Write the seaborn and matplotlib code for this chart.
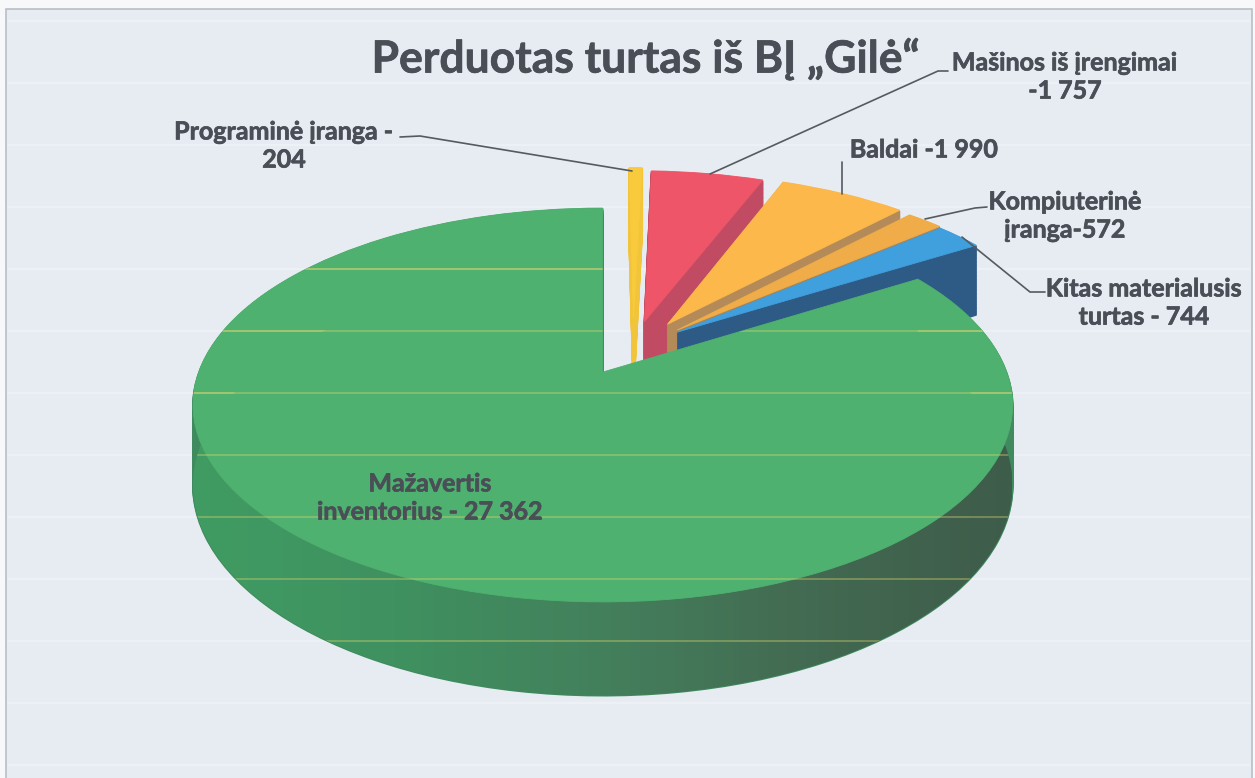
import matplotlib
matplotlib.use("Agg")
import matplotlib.pyplot as plt
import matplotlib.patheffects as pe
import matplotlib.transforms as mtransforms
from matplotlib.colors import LinearSegmentedColormap
from matplotlib.patches import Polygon, Rectangle
import numpy as np
import seaborn as sns

# clockwise from 12 o'clock
categories = ["Programinė įranga", "Mašinos iš įrengimai", "Baldai",
              "Kompiuterinė įranga", "Kitas materialusis turtas",
              "Mažavertis inventorius"]
values = [204, 1757, 1990, 572, 744, 27362]
explode = [0.23, 0.22, 0.226, 0.20, 0.18, 0.092]
# small extra pull of the slices, the scan's perspective is not quite radial
nudge = [(0.035, -0.01), (0.022, -0.02), (0.005, -0.01), (0.005, 0.01), (0.005, 0.03), (0.004, 0)]

top_colors = ["#f8ca3c", "#ee5568", "#fdb84c", "#efac48", "#409fdd", "#4fb16f"]
side_colors = ["#f2c43a", "#c04b62", "#b48b58", "#a98250", "#2e5b86", "#3f8a5e"]
green_side = ["#3f9c62", "#3f9160", "#43805c", "#436a52", "#3e5c4a"]

TEXT = "#4a4f57"
BG = "#e7ecf2"

# perspective of the tilted pie, in picture pixels
X0, Y0 = 601, 372
A, B, K, D = 191.4, 404, 0.167, 78


class Tilt(mtransforms.Transform):
    input_dims = 2
    output_dims = 2
    is_separable = False

    def __init__(self, drop=0.0):
        super().__init__()
        self.drop = drop

    def transform_non_affine(self, xy):
        xy = np.asarray(xy, dtype=float)
        w = 1 + K * xy[:, 1]
        return np.column_stack([X0 + B * xy[:, 0] / w,
                                Y0 - (A * xy[:, 1] - D * self.drop) / w])


def draw_pie(ax, colors, drop, zorder, lw):
    wedges, _ = ax.pie(values, explode=explode, colors=colors, startangle=90,
                       counterclock=False, center=(0.045, 0.08))
    for w, (dx, dy) in zip(wedges, nudge):
        w.set_center((w.center[0] + dx, w.center[1] + dy))
        w.set_transform(Tilt(drop) + ax.transData)
        w.set_zorder(zorder)
        w.set_edgecolor(w.get_facecolor())
        w.set_linewidth(lw)
    return wedges


sns.set_theme(style="white", palette=sns.color_palette(top_colors))
plt.rcParams["font.family"] = ["Lato", "DejaVu Sans"]

fig = plt.figure(figsize=(12.55, 7.78), dpi=100, facecolor="#f7f8f9")
ax = fig.add_axes([0, 0, 1, 1])

ax.add_patch(Rectangle((6, 9), 1246, 790, facecolor=BG, edgecolor="#b9bfc6",
                       linewidth=1.2, zorder=0))

# pale rules of the scan
stripes = list(range(21, 778, 62))
for y in stripes:
    ax.plot([8, 1250], [y, y], color="#f6f8fa", lw=1.3, alpha=0.45, zorder=0.5)

# extrusion, bottom layer first
layers = 50
for i in range(layers):
    draw_pie(ax, side_colors, 1 - i / layers, 2 + i * 0.001, 1.4)

top = draw_pie(ax, top_colors, 0, 3, 0.6)
green = top[-1]

# front wall of the big slice, darker to the right
th = np.radians(np.linspace(green.theta1, green.theta2, 300))
rim = np.column_stack([green.center[0] + np.cos(th), green.center[1] + np.sin(th)])
wall = np.vstack([Tilt(0).transform(rim), Tilt(1).transform(rim)[::-1]])
wall_patch = Polygon(wall, closed=True, transform=ax.transData, facecolor="none",
                     edgecolor="none")
ax.add_patch(wall_patch)
cmap = LinearSegmentedColormap.from_list("wall", green_side)
im = ax.imshow(np.linspace(0, 1, 256)[None, :], cmap=cmap, aspect="auto",
               extent=[190, 1012, 700, 200], zorder=2.9)
im.set_clip_path(wall_patch)

# yellowish rules over the green
for y in stripes:
    for clip in (green, wall_patch):
        ln, = ax.plot([190, 1012], [y, y], color="#d9d46e", lw=1.3, alpha=0.4,
                      zorder=3.5)
        ln.set_clip_path(clip)

ax.set_aspect("auto")
ax.set_xlim(0, 1255)
ax.set_ylim(778, 0)
ax.axis("off")

heavy = [pe.withStroke(linewidth=0.5, foreground=TEXT)]
ax.text(646, 59, "Perduotas turtas iš BĮ „Gilė“", fontsize=32, fontweight="bold",
        color=TEXT, ha="center", va="center", zorder=5, path_effects=heavy)

label_style = dict(fontsize=18, fontweight="bold", color=TEXT, ha="center",
                   va="center", linespacing=1.27, zorder=5, path_effects=heavy)
ax.text(284, 146, f"{categories[0]} -\n{values[0]}", **label_style)
ax.text(1065, 77, f"{categories[1]}\n-1 757", **label_style)
ax.text(924, 150, f"{categories[2]} -1 990", **label_style)
ax.text(1065, 216, f"Kompiuterinė\nįranga-{values[3]}", **label_style)
ax.text(1144, 303, f"Kitas materialusis\nturtas - {values[4]}", **label_style)
ax.text(430, 498, "Mažavertis\ninventorius - 27 362", **label_style)

# leader lines
leaders = [([400, 420, 632], [137, 136, 171]),
           ([710, 938, 948], [174, 71, 71]),
           ([842, 842], [162, 194]),
           ([925, 975, 987], [219, 208, 207]),
           ([962, 1030, 1045], [237, 292, 292])]
for xs, ys in leaders:
    ax.plot(xs, ys, color="#555a60", lw=1.2, zorder=4)

fig.savefig("out.png", dpi=100)
